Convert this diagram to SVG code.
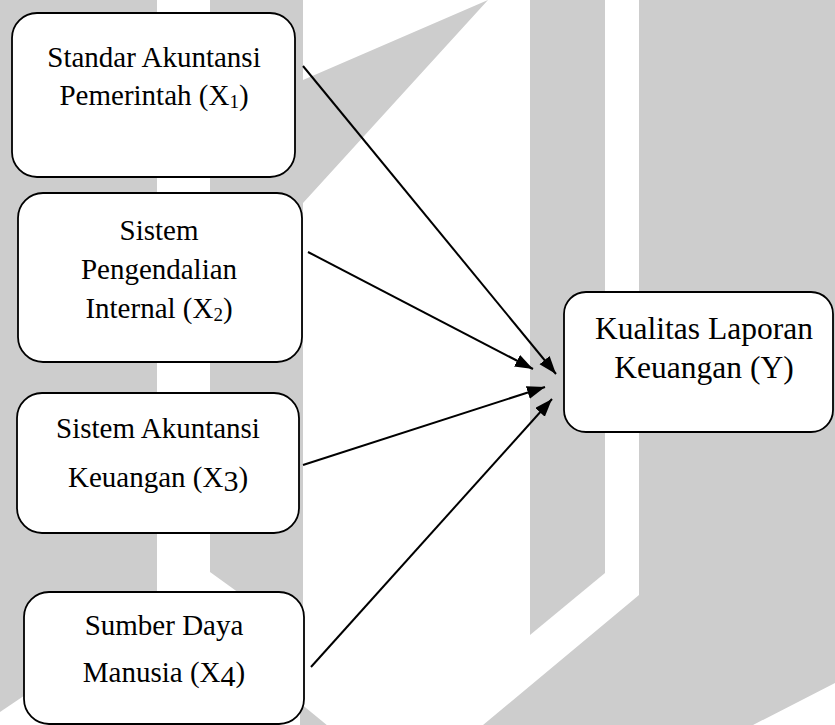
<svg xmlns="http://www.w3.org/2000/svg" width="835" height="725" viewBox="0 0 835 725">
<style>
.wm{fill:#cdcdcd;stroke:none}
.box{fill:#ffffff;stroke:#000000;stroke-width:1.8}
.lbl{font-family:"Liberation Serif","Times New Roman",serif;font-size:29px;fill:#000000;text-anchor:middle}
.lblY{font-family:"Liberation Serif","Times New Roman",serif;font-size:31.5px;fill:#000000;text-anchor:middle}
.sub{font-size:19px}
.dig{font-size:30px}
.conn{stroke:#000000;stroke-width:2;fill:none;marker-end:url(#arrow)}
</style>
<defs>
<marker id="arrow" markerUnits="userSpaceOnUse" markerWidth="20" markerHeight="14" refX="18" refY="6.5" orient="auto">
<path d="M0,0 L18,6.5 L0,13 z" fill="#000000"/>
</marker>
</defs>
<rect x="0" y="0" width="835" height="725" fill="#ffffff"/>
<g id="watermark">
<polygon class="wm" points="0,0 157,0 157,606 0,712"/>
<polygon class="wm" points="210,0 303,0 303,80 488,0 303,203 303,639 210,572"/>
<polygon class="wm" points="530,0 605,0 605,573 530,635"/>
<polygon class="wm" points="639,0 835,0 835,683 753,725 483,725 639,595"/>
<polygon class="wm" points="300,703 328,726 300,726"/>
</g>
<g id="connectors">
<line class="conn" x1="303" y1="66" x2="556" y2="374"/>
<line class="conn" x1="308" y1="252" x2="533" y2="369"/>
<line class="conn" x1="303" y1="465" x2="545" y2="387"/>
<line class="conn" x1="311" y1="667" x2="552" y2="399"/>
</g>
<g id="x1">
<rect class="box" x="12" y="13" width="283" height="164" rx="25" ry="25"/>
<text class="lbl" x="154" y="67">Standar Akuntansi</text>
<text class="lbl" x="154" y="105">Pemerintah (X<tspan class="sub" dy="3">1</tspan><tspan dy="-3">)</tspan></text>
</g>
<g id="x2">
<rect class="box" x="18" y="193" width="284" height="169" rx="25" ry="25"/>
<text class="lbl" x="159" y="240">Sistem</text>
<text class="lbl" x="159" y="279">Pengendalian</text>
<text class="lbl" x="159" y="318">Internal (X<tspan class="sub" dy="3">2</tspan><tspan dy="-3">)</tspan></text>
</g>
<g id="x3">
<rect class="box" x="17" y="393" width="282" height="140" rx="25" ry="25"/>
<text class="lbl" x="158" y="438">Sistem Akuntansi</text>
<text class="lbl" x="158" y="487">Keuangan (X<tspan class="dig" dy="4">3</tspan><tspan dy="-4">)</tspan></text>
</g>
<g id="x4">
<rect class="box" x="24" y="592" width="280" height="132" rx="25" ry="25"/>
<text class="lbl" x="164" y="635">Sumber Daya</text>
<text class="lbl" x="164" y="682">Manusia (X<tspan class="dig" dy="4">4</tspan><tspan dy="-4">)</tspan></text>
</g>
<g id="y">
<rect class="box" x="564" y="292" width="269" height="140" rx="22" ry="22"/>
<text class="lblY" x="704" y="339">Kualitas Laporan</text>
<text class="lblY" x="704" y="378">Keuangan (Y)</text>
</g>
</svg>
